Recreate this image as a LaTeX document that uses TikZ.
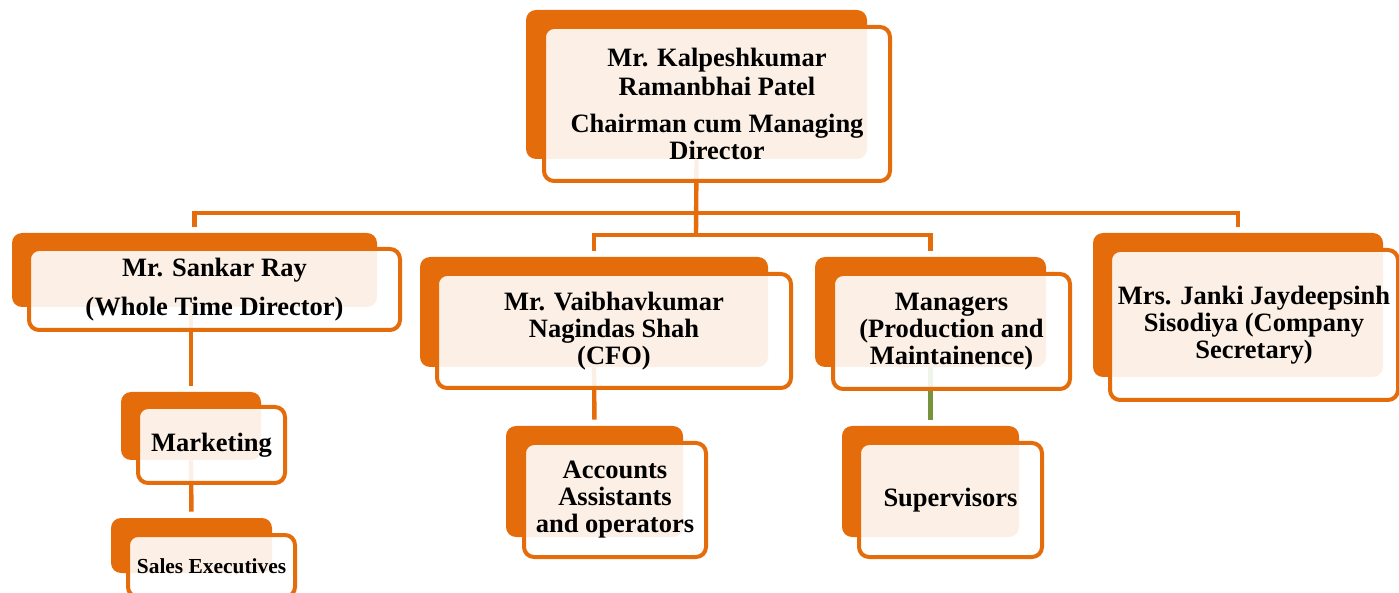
\documentclass[tikz,border=0pt]{standalone}
\usepackage{fontspec}
\setmainfont{Liberation Serif}
\usetikzlibrary{calc}

\definecolor{chartorange}{HTML}{E46C0A}
\definecolor{chartgreen}{HTML}{77933C}

\tikzset{
  backbox/.style={fill=chartorange, rounded corners=5pt, inner sep=0pt},
  frontbox/.style={draw=chartorange, line width=2pt, fill=white, fill opacity=0.9,
    text opacity=1, rounded corners=5pt, inner sep=0pt, align=center,
    font=\fontsize{13.25}{13.5}\selectfont\bfseries},
  link/.style={draw=chartorange, line width=2.2pt},
}

\begin{document}
\begin{tikzpicture}[x=0.5pt, y=-0.5pt]
\useasboundingbox (0,0) rectangle (1399,593);

% Back plates
\node[backbox, minimum width=170.5pt, minimum height=74.5pt] (cmd-back) at (696.5,84.5) {};
\node[backbox, minimum width=182.5pt, minimum height=37pt] (sankar-back) at (194.5,270) {};
\node[backbox, minimum width=174pt, minimum height=55pt] (cfo-back) at (594,312) {};
\node[backbox, minimum width=115.5pt, minimum height=55pt] (mgr-back) at (930.5,312) {};
\node[backbox, minimum width=145pt, minimum height=72pt] (janki-back) at (1238,305) {};
\node[backbox, minimum width=70pt, minimum height=34pt] (mkt-back) at (191,426) {};
\node[backbox, minimum width=80.5pt, minimum height=27.5pt] (sales-back) at (191.5,545.5) {};
\node[backbox, minimum width=88.5pt, minimum height=55.5pt] (acc-back) at (594.5,481.5) {};
\node[backbox, minimum width=88.5pt, minimum height=55.5pt] (sup-back) at (930.5,481.5) {};

% Buses
\coordinate (bus-high) at (696,213);
\coordinate (bus-low) at (696,235);

\draw[link] (cmd-back.south) -- (bus-low);
\draw[link, shorten <=3pt, shorten >=3pt] (sankar-back.north) |- (bus-high) -| (janki-back.north);
\draw[link, shorten <=3pt, shorten >=3pt] (cfo-back.north) |- (bus-low) -| (mgr-back.north);

% Lower links
\draw[link, shorten >=3pt] (mkt-back.north |- sankar-back.south) -- (mkt-back.north);
\draw[link, shorten >=3pt] (mkt-back.south) -- (sales-back.north);
\draw[link, shorten >=3pt] (cfo-back.south) -- (acc-back.north);
\draw[link, draw=chartgreen, shorten >=3pt] (mgr-back.south) -- (sup-back.north);

% Front cards
\node[frontbox, minimum width=173pt, minimum height=77pt] (cmd)
  at ($(cmd-back)+(20.5,19.5)$)
  {Mr. Kalpeshkumar\\[1pt]Ramanbhai Patel\\[5pt]Chairman cum Managing\\Director};
\node[frontbox, minimum width=185.5pt, minimum height=40.5pt] (sankar)
  at ($(sankar-back)+(20,19.5)$)
  {Mr. Sankar Ray\\[6pt](Whole Time Director)};
\node[frontbox, minimum width=177pt, minimum height=57pt] (cfo)
  at ($(cfo-back)+(20,19)$)
  {Mr. Vaibhavkumar\\Nagindas Shah\\(CFO)};
\node[frontbox, minimum width=118.5pt, minimum height=57.5pt] (mgr)
  at ($(mgr-back)+(21,19.5)$)
  {Managers\\(Production and\\Maintainence)};
\node[frontbox, minimum width=144pt, minimum height=75pt] (janki)
  at ($(janki-back)+(16,20)$)
  {Mrs. Janki Jaydeepsinh\\Sisodiya (Company\\Secretary)};
\node[frontbox, minimum width=73.5pt, minimum height=38pt] (mkt)
  at ($(mkt-back)+(20.5,19)$)
  {Marketing};
\node[frontbox, minimum width=83.5pt, minimum height=31pt,
  font=\fontsize{10.7}{12}\selectfont\bfseries] (sales)
  at ($(sales-back)+(20,20.5)$)
  {Sales Executives};
\node[frontbox, minimum width=91pt, minimum height=57pt] (acc)
  at ($(acc-back)+(20.5,18.5)$)
  {Accounts\\Assistants\\and operators};
\node[frontbox, minimum width=91.5pt, minimum height=57pt] (sup)
  at ($(sup-back)+(20,18.5)$)
  {Supervisors};
\end{tikzpicture}
\end{document}
